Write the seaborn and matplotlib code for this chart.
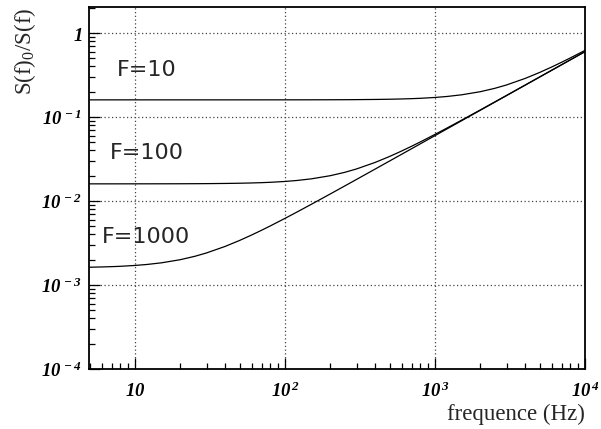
import numpy as np
import pandas as pd
import matplotlib
matplotlib.use("Agg")
import matplotlib.pyplot as plt
import seaborn as sns
from matplotlib.ticker import LogLocator, FixedLocator, NullFormatter

# ---- data ----
freq = [5, 6, 7, 8, 10, 12, 15, 20, 25, 30, 40, 50, 60, 70, 80, 100, 120, 150,
        200, 250, 300, 400, 500, 600, 700, 800, 1000, 1200, 1500, 2000, 2500,
        3000, 4000, 5000, 6000, 7000, 8000, 10000]
ratio_F10 = [0.16, 0.16, 0.16, 0.16, 0.16, 0.16, 0.16, 0.16, 0.16, 0.16, 0.16,
             0.16003, 0.16004, 0.16005, 0.16007, 0.16011, 0.16016, 0.16025,
             0.16045, 0.1607, 0.16101, 0.1618, 0.1628, 0.164, 0.1654, 0.167,
             0.1709, 0.1755, 0.1836, 0.2, 0.2193, 0.2408, 0.2884, 0.34, 0.394,
             0.4494, 0.506, 0.621]
ratio_F100 = [0.016003, 0.016004, 0.016005, 0.016007, 0.016011, 0.016016,
              0.016025, 0.016045, 0.01607, 0.016101, 0.01618, 0.01628, 0.0164,
              0.01654, 0.0167, 0.01709, 0.01755, 0.01836, 0.02, 0.02193,
              0.02408, 0.02884, 0.034, 0.0394, 0.04494, 0.0506, 0.0621,
              0.07376, 0.09141, 0.12106, 0.15085, 0.18071, 0.24053, 0.30043,
              0.36036, 0.4203, 0.48027, 0.60021]
ratio_F1000 = [0.001628, 0.00164, 0.001654, 0.00167, 0.001709, 0.001755,
               0.001836, 0.002, 0.002193, 0.002408, 0.002884, 0.0034, 0.00394,
               0.004494, 0.00506, 0.00621, 0.007376, 0.009141, 0.012106,
               0.015085, 0.018071, 0.024053, 0.030043, 0.036036, 0.04203,
               0.048027, 0.06002, 0.072018, 0.090014, 0.12001, 0.150009,
               0.180007, 0.240005, 0.3, 0.36, 0.42, 0.48, 0.6]
curve_labels = ["F=10", "F=100", "F=1000"]
label_pos_f = [7.6, 6.8, 6.0]
label_pos_y = [0.36, 0.037, 0.0037]
x_ticks = [10, 100, 1000, 10000]
x_tick_labels = [r"$10$", r"$10^{\,2}$", r"$10^{\,3}$", r"$10^{\,4}$"]
y_ticks = [1e-4, 1e-3, 1e-2, 1e-1, 1]
y_tick_labels = [r"$10^{\,-4}$", r"$10^{\,-3}$", r"$10^{\,-2}$", r"$10^{\,-1}$", r"$1$"]

df = pd.concat([
    pd.DataFrame({"f": freq, "r": ratio_F10, "F": curve_labels[0]}),
    pd.DataFrame({"f": freq, "r": ratio_F100, "F": curve_labels[1]}),
    pd.DataFrame({"f": freq, "r": ratio_F1000, "F": curve_labels[2]}),
])

sns.set_style("white")
plt.rcParams["mathtext.fontset"] = "custom"
plt.rcParams["mathtext.rm"] = "Liberation Serif:italic:bold"
plt.rcParams["mathtext.it"] = "Liberation Serif:italic:bold"
plt.rcParams["mathtext.bf"] = "Liberation Serif:italic:bold"
plt.rcParams["mathtext.default"] = "rm"

fig = plt.figure(figsize=(6.01, 4.29), dpi=100)
ax = fig.add_axes([89/601, 1 - 369/429, (585 - 89)/601, (369 - 7)/429])

sns.lineplot(data=df, x="f", y="r", hue="F", units="F", estimator=None,
             palette=["black"] * 3, linewidth=0.9, legend=False, ax=ax)

ax.set_xscale("log")
ax.set_yscale("log")
ax.set_xlim(4.94, 1e4)
ax.set_ylim(1e-4, 2.04)

ax.xaxis.set_major_locator(FixedLocator(x_ticks))
ax.xaxis.set_ticklabels(x_tick_labels)
ax.xaxis.set_minor_locator(LogLocator(base=10, subs=np.arange(2, 10), numticks=20))
ax.xaxis.set_minor_formatter(NullFormatter())
ax.yaxis.set_major_locator(FixedLocator(y_ticks))
ax.yaxis.set_ticklabels(y_tick_labels)
ax.yaxis.set_minor_locator(LogLocator(base=10, subs=np.arange(2, 10), numticks=20))
ax.yaxis.set_minor_formatter(NullFormatter())

ax.tick_params(axis="both", which="both", bottom=True, left=True, top=False, right=False)
ax.tick_params(axis="both", which="major", direction="in", length=8, width=0.9,
               colors="black", labelsize=13.5)
ax.tick_params(axis="both", which="minor", direction="in", length=4, width=0.9,
               colors="black")
ax.tick_params(axis="x", which="major", pad=9)
ax.tick_params(axis="y", which="major", pad=5)

for g in [10, 100, 1000]:
    ax.axvline(g, color="#444444", linestyle=(0, (1, 2)), linewidth=0.9, zorder=0)
for g in [1e-3, 1e-2, 1e-1, 1]:
    ax.axhline(g, color="#444444", linestyle=(0, (1, 2)), linewidth=0.9, zorder=0)

for s in ax.spines.values():
    s.set_color("black")
    s.set_linewidth(1.3)

for lab, fx, fy in zip(curve_labels, label_pos_f, label_pos_y):
    ax.text(fx, fy, lab, fontsize=16, family="DejaVu Sans", va="center", ha="left")

ax.set_xlabel("frequence (Hz)", family="Liberation Serif", fontsize=16.5)
ax.xaxis.set_label_coords(1.0, -0.095)
ax.xaxis.label.set_ha("right")
ax.xaxis.label.set_va("top")
ax.set_ylabel(r"S(f)$_{\mathregular{0}}$/S(f)", family="Liberation Serif", fontsize=16.5)
ax.yaxis.label.set_rotation_mode("anchor")
ax.yaxis.label.set_ha("right")
ax.yaxis.label.set_va("top")
ax.yaxis.set_label_coords(-0.155, 0.997)

fig.savefig("out.png", dpi=100)
